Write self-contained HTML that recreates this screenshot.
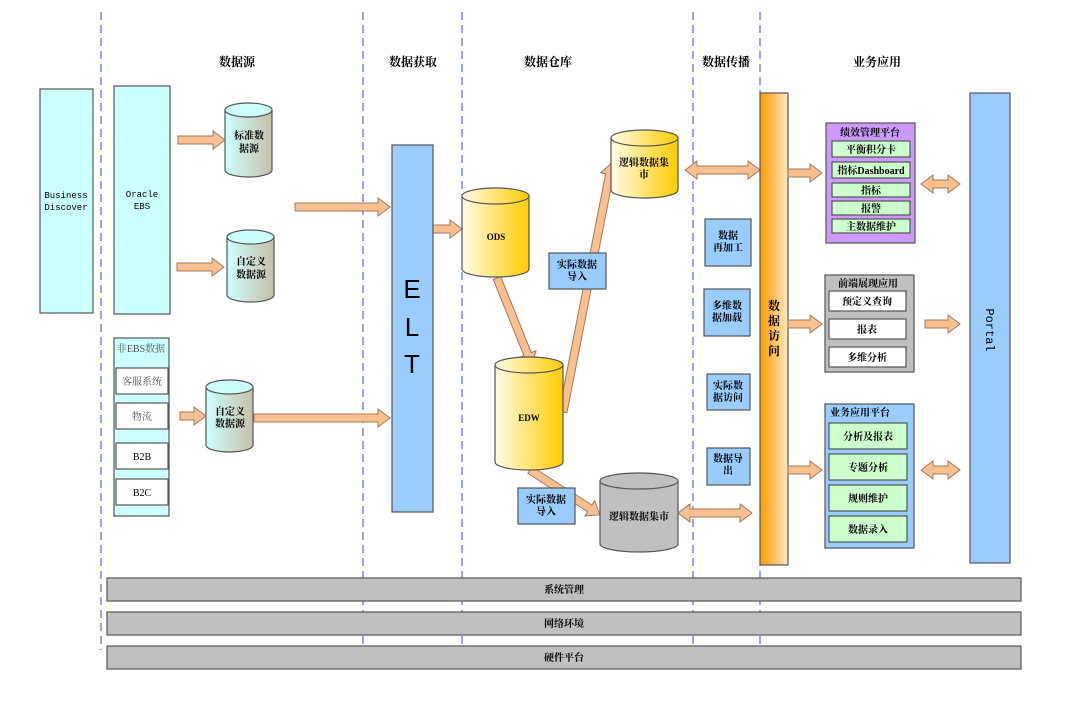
<!DOCTYPE html>
<html><head><meta charset="utf-8"><style>
html,body{margin:0;padding:0;background:#fff;}
svg{display:block;}
text{font-family:"Liberation Serif","Noto Serif CJK SC","Noto Sans CJK SC",serif;font-size:10px;fill:#000;text-anchor:middle;}
.b{font-weight:bold;}
.m{font-family:"Liberation Mono","Noto Sans CJK SC",monospace;font-size:9px;}
.h{font-size:12px;font-weight:bold;}
.ar{fill:#fac090;stroke:#a0785a;stroke-width:1;}
</style></head><body>
<svg width="1080" height="708" viewBox="0 0 1080 708" xmlns="http://www.w3.org/2000/svg">
<defs>
<linearGradient id="y" x1="0" x2="1"><stop offset="0" stop-color="#fffde8"/><stop offset="1" stop-color="#ffcc00"/></linearGradient>
<linearGradient id="c" x1="0" x2="1"><stop offset="0" stop-color="#ccffff"/><stop offset="1" stop-color="#c8c0a8"/></linearGradient>
<linearGradient id="o" x1="0" x2="1"><stop offset="0" stop-color="#ff9900"/><stop offset="1" stop-color="#ffe8c0"/></linearGradient>
</defs>
<g stroke="#3344ee" stroke-width="1" stroke-dasharray="8,5">
<line x1="101" y1="12" x2="101" y2="650"/><line x1="363" y1="12" x2="363" y2="648"/><line x1="462" y1="12" x2="462" y2="648"/><line x1="693" y1="12" x2="693" y2="648"/><line x1="760" y1="12" x2="760" y2="648"/>
</g>
<text class="h" x="237" y="66">数据源</text><text class="h" x="413" y="66">数据获取</text><text class="h" x="548" y="66">数据仓库</text><text class="h" x="726" y="66">数据传播</text><text class="h" x="877" y="66">业务应用</text>

<g stroke="#555" stroke-width="1.2">
<rect x="40" y="89" width="53" height="224" fill="#ccffff"/>
<rect x="114" y="86" width="56" height="228" fill="#ccffff"/>
<rect x="114" y="338" width="55" height="178" fill="#ccffff"/>
<rect x="116" y="368" width="52" height="26" fill="#fff"/>
<rect x="116" y="403" width="52" height="26" fill="#fff"/>
<rect x="116" y="443" width="52" height="26" fill="#fff"/>
<rect x="116" y="479" width="52" height="26" fill="#fff"/>
</g>
<text class="m" x="66" y="198">Business</text><text class="m" x="66" y="210">Discover</text>
<text class="m" x="142" y="197">Oracle</text><text class="m" x="142" y="209">EBS</text>
<text x="141" y="352" style="fill:#555">非EBS数据</text>
<text x="142" y="385" style="fill:#555">客服系统</text><text x="142" y="420" style="fill:#555">物流</text>
<text x="142" y="460">B2B</text><text x="142" y="496">B2C</text>

<g stroke="#555" stroke-width="1.2">
<path d="M225,110 L225,170 A23.5,7 0 0 0 272,170 L272,110 Z" fill="url(#c)"/><ellipse cx="248.5" cy="110" rx="23.5" ry="7" fill="#ccffff"/>
<path d="M227,237 L227,295 A23.5,7 0 0 0 274,295 L274,237 Z" fill="url(#c)"/><ellipse cx="250.5" cy="237" rx="23.5" ry="7" fill="#ccffff"/>
<path d="M206,387 L206,445 A23.5,7 0 0 0 253,445 L253,387 Z" fill="url(#c)"/><ellipse cx="229.5" cy="387" rx="23.5" ry="7" fill="#ccffff"/>
</g>
<text class="b" x="249" y="139">标准数</text><text class="b" x="249" y="152">据源</text>
<text class="b" x="251" y="265">自定义</text><text class="b" x="251" y="278">数据源</text>
<text class="b" x="230" y="415">自定义</text><text class="b" x="230" y="427">数据源</text>

<polygon class="ar" points="178,136 213,136 213,131 225,140 213,149 213,144 178,144"/>
<polygon class="ar" points="177,263 212,263 212,258 224,267 212,276 212,271 177,271"/>
<polygon class="ar" points="180,412 194,412 194,407 206,416 194,425 194,420 180,420"/>
<polygon class="ar" points="254,414 378,414 378,409 390,418 378,427 378,422 254,422"/>
<polygon class="ar" points="295,203 378,203 378,198 390,207 378,216 378,211 295,211"/>
<polygon class="ar" points="433,225 450,225 450,220 462,229 450,238 450,233 433,233"/>

<rect x="392" y="145" width="41" height="367" fill="#99ccff" stroke="#555" stroke-width="1.2"/>
<text x="412" y="298" style="font-family:'Liberation Sans',sans-serif;font-size:26px">E</text>
<text x="412" y="336" style="font-family:'Liberation Sans',sans-serif;font-size:26px">L</text>
<text x="412" y="373" style="font-family:'Liberation Sans',sans-serif;font-size:26px">T</text>

<g transform="translate(497,278) rotate(68.1)"><polygon class="ar" points="0,-4 82,-4 82,-9 94,0 82,9 82,4 0,4"/></g>
<g transform="translate(563,412) rotate(-78.9)"><polygon class="ar" points="0,-4 242,-4 242,-9 254,0 242,9 242,4 0,4"/></g>
<g transform="translate(530,470) rotate(32.7)"><polygon class="ar" points="0,-4 71,-4 71,-9 83,0 71,9 71,4 0,4"/></g>

<g stroke="#555" stroke-width="1.2">
<path d="M462,196 L462,269 A33.5,8 0 0 0 529,269 L529,196 Z" fill="url(#y)"/><ellipse cx="495.5" cy="196" rx="33.5" ry="8" fill="url(#y)"/>
<path d="M495,365 L495,462 A34,8 0 0 0 563,462 L563,365 Z" fill="url(#y)"/><ellipse cx="529" cy="365" rx="34" ry="8" fill="url(#y)"/>
<path d="M611,138 L611,190 A33.5,8 0 0 0 678,190 L678,138 Z" fill="url(#y)"/><ellipse cx="644.5" cy="138" rx="33.5" ry="8" fill="url(#y)"/>
<path d="M600,481 L600,544 A39,8 0 0 0 678,544 L678,481 Z" fill="#c0c0c0"/><ellipse cx="639" cy="481" rx="39" ry="8" fill="#c0c0c0"/>
<rect x="549" y="253" width="57" height="36" fill="#99ccff"/>
<rect x="518" y="488" width="57" height="36" fill="#99ccff"/>
</g>
<text class="b" x="496" y="240" style="font-size:9px">ODS</text>
<text class="b" x="529" y="421" style="font-size:9px">EDW</text>
<text class="b" x="644" y="166">逻辑数据集</text><text class="b" x="644" y="178">市</text>
<text class="b" x="639" y="520">逻辑数据集市</text>
<text class="b" x="577" y="268">实际数据</text><text class="b" x="577" y="280">导入</text>
<text class="b" x="546" y="503">实际数据</text><text class="b" x="546" y="515">导入</text>

<polygon class="ar" points="685,170 697,161 697,166 748,166 748,161 760,170 748,179 748,174 697,174 697,179"/>
<polygon class="ar" points="678,513 690,504 690,509 740,509 740,504 752,513 740,522 740,517 690,517 690,522"/>

<g stroke="#555" stroke-width="1.2" fill="#99ccff">
<rect x="705" y="219" width="46" height="47"/><rect x="704" y="289" width="46" height="47"/>
<rect x="707" y="374" width="43" height="36"/><rect x="707" y="448" width="43" height="37"/>
</g>
<text class="b" x="728" y="239">数据</text><text class="b" x="728" y="251">再加工</text>
<text class="b" x="727" y="309">多维数</text><text class="b" x="727" y="321">据加载</text>
<text class="b" x="728" y="389">实际数</text><text class="b" x="728" y="401">据访问</text>
<text class="b" x="728" y="462">数据导</text><text class="b" x="728" y="474">出</text>

<rect x="760" y="93" width="28" height="472" fill="url(#o)" stroke="#555" stroke-width="1.2"/>
<text class="b" x="774" y="310" style="font-size:12px">数</text><text class="b" x="774" y="325" style="font-size:12px">据</text><text class="b" x="774" y="340" style="font-size:12px">访</text><text class="b" x="774" y="355" style="font-size:12px">问</text>

<polygon class="ar" points="788,169 810,169 810,164 822,173 810,182 810,177 788,177"/>
<polygon class="ar" points="788,320 810,320 810,315 822,324 810,333 810,328 788,328"/>
<polygon class="ar" points="788,466 810,466 810,461 822,470 810,479 810,474 788,474"/>

<g stroke="#555" stroke-width="1.2">
<rect x="826" y="123" width="89" height="120" fill="#cc99ff"/>
<rect x="832" y="141" width="78" height="16" fill="#ccffcc"/><rect x="832" y="162" width="78" height="16" fill="#ccffcc"/>
<rect x="832" y="183" width="78" height="14" fill="#ccffcc"/><rect x="832" y="201" width="78" height="14" fill="#ccffcc"/>
<rect x="832" y="219" width="78" height="14" fill="#ccffcc"/>
<rect x="825" y="275" width="89" height="97" fill="#c0c0c0"/>
<rect x="829" y="291" width="77" height="20" fill="#fff"/><rect x="829" y="319" width="77" height="20" fill="#fff"/><rect x="829" y="347" width="77" height="20" fill="#fff"/>
<rect x="825" y="404" width="89" height="144" fill="#99ccff"/>
<rect x="829" y="423" width="78" height="26" fill="#ccffcc"/><rect x="829" y="454" width="78" height="26" fill="#ccffcc"/>
<rect x="829" y="485" width="78" height="26" fill="#ccffcc"/><rect x="829" y="516" width="78" height="26" fill="#ccffcc"/>
</g>
<text class="b" x="870" y="136">绩效管理平台</text>
<text class="b" x="871" y="153">平衡积分卡</text><text class="b" x="871" y="174">指标Dashboard</text>
<text class="b" x="871" y="194">指标</text><text class="b" x="871" y="212">报警</text><text class="b" x="871" y="230">主数据维护</text>
<text class="b" x="868" y="287">前端展现应用</text>
<text class="b" x="867" y="305">预定义查询</text><text class="b" x="867" y="333">报表</text><text class="b" x="867" y="361">多维分析</text>
<text class="b" x="860" y="416" style="text-anchor:middle">业务应用平台</text>
<text class="b" x="868" y="440">分析及报表</text><text class="b" x="868" y="471">专题分析</text>
<text class="b" x="868" y="502">规则维护</text><text class="b" x="868" y="533">数据录入</text>

<polygon class="ar" points="921,184 933,175 933,180 948,180 948,175 960,184 948,193 948,188 933,188 933,193"/>
<polygon class="ar" points="921,470 933,461 933,466 948,466 948,461 960,470 948,479 948,474 933,474 933,479"/>
<polygon class="ar" points="925,320 948,320 948,315 960,324 948,333 948,328 925,328"/>

<rect x="970" y="93" width="40" height="470" fill="#99ccff" stroke="#555" stroke-width="1.2"/>
<text transform="translate(986,330) rotate(90)" style="font-family:'Liberation Mono',monospace;font-size:12px">Portal</text>

<g stroke="#555" stroke-width="1.2" fill="#c0c0c0">
<rect x="107" y="578" width="914" height="23"/><rect x="107" y="612" width="914" height="23"/><rect x="107" y="646" width="914" height="23"/>
</g>
<text class="b" x="564" y="593">系统管理</text><text class="b" x="564" y="627">网络环境</text><text class="b" x="564" y="661">硬件平台</text>
</svg>
</body></html>
